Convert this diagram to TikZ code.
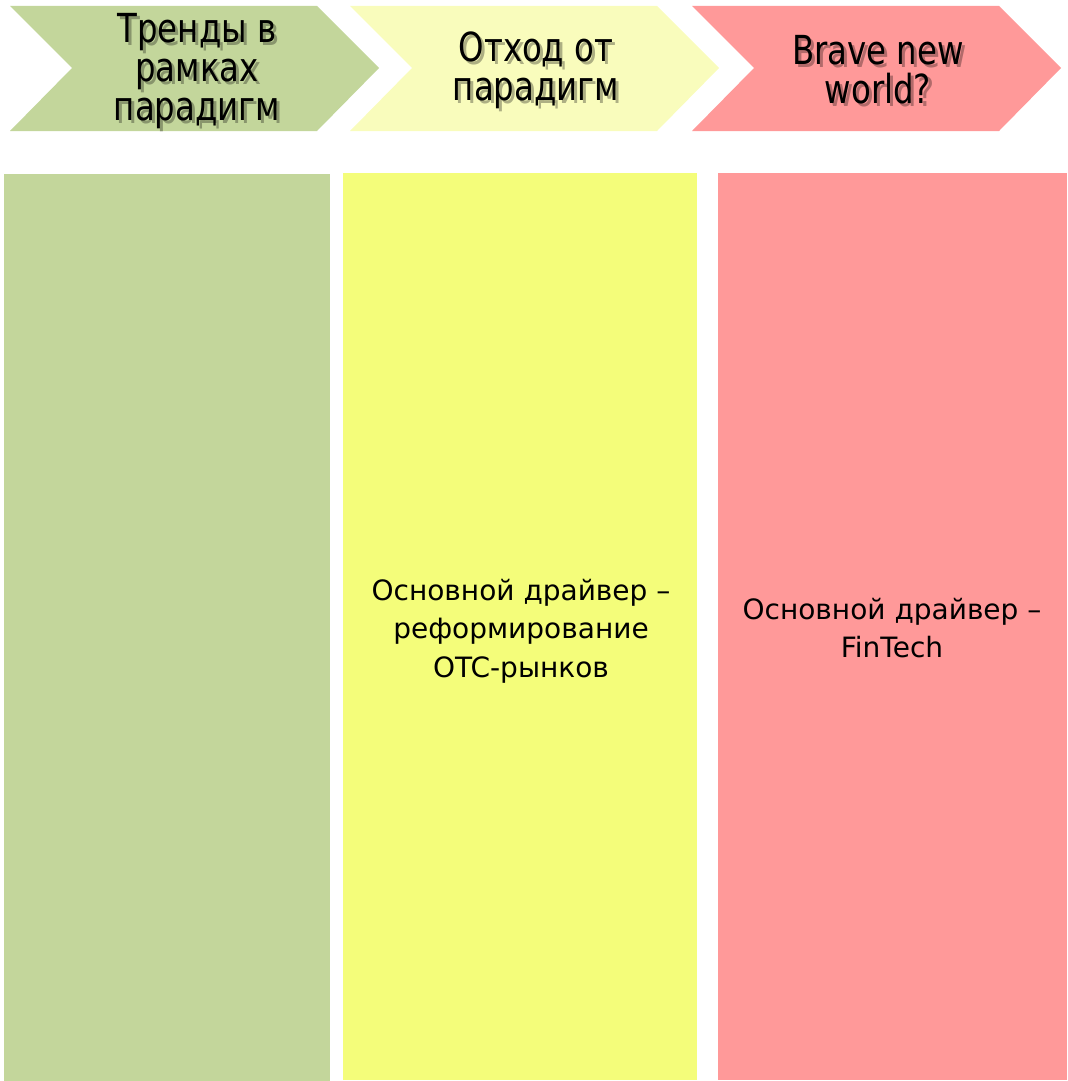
\documentclass[tikz,border=0pt]{standalone}
\usepackage{fontspec}
\setmainfont{DejaVu Sans}
\newfontfamily\headfont{DejaVu Sans Condensed}[FakeStretch=0.9]
\definecolor{paradgreen}{HTML}{C3D69B}
\definecolor{palegold}{HTML}{F9FCBC}
\definecolor{brightgold}{HTML}{F4FD7A}
\definecolor{fintechred}{HTML}{FF9999}
\tikzset{
  heading/.style={align=center, font=\headfont\fontsize{30}{29}\selectfont, inner sep=0pt},
  headshadow/.style={heading, text=black, text opacity=0.3},
  bodytext/.style={align=center, font=\fontsize{21}{29}\selectfont, inner sep=0pt}
}
\begin{document}
\begin{tikzpicture}[x=0.75pt, y=-0.75pt]%
   % 1 unit = 1 pixel of the reference, y pointing down
   \useasboundingbox (0,0) rectangle (1067,1081);

   % Chevrons along the top
   \foreach \xo/\col in {10/paradgreen, 350/palegold, 692/fintechred}
     \fill[\col] (\xo,6) -- ++(307,0) -- ++(62,62) -- ++(-62,63)
       -- ++(-307,0) -- ++(62,-63) -- cycle;

   % Columns
   \fill[paradgreen] (4,174) rectangle (330,1081);
   \fill[brightgold] (343,173) rectangle (697,1080);
   \fill[fintechred] (718,173) rectangle (1067,1080);

   % Heading texts (with a soft shadow)
   \node[headshadow] (trends shadow) at (200,74) {Тренды в\\рамках\\парадигм};
   \node[heading] (trends) at (197,71) {Тренды в\\рамках\\парадигм};
   \node[headshadow] (shift shadow) at (539,73) {Отход от\\парадигм};
   \node[heading] (shift) at (536,70) {Отход от\\парадигм};
   \node[headshadow] (brave shadow) at (881,73) {Brave new\\world?};
   \node[heading] (brave) at (878,70) {Brave new\\world?};

   % Column texts
   \node[bodytext] (otc) at (521,631) {Основной драйвер –\\реформирование\\OTC-рынков};
   \node[bodytext] (fintech) at (892,628) {Основной драйвер –\\FinTech};
 \end{tikzpicture}
\end{document}
